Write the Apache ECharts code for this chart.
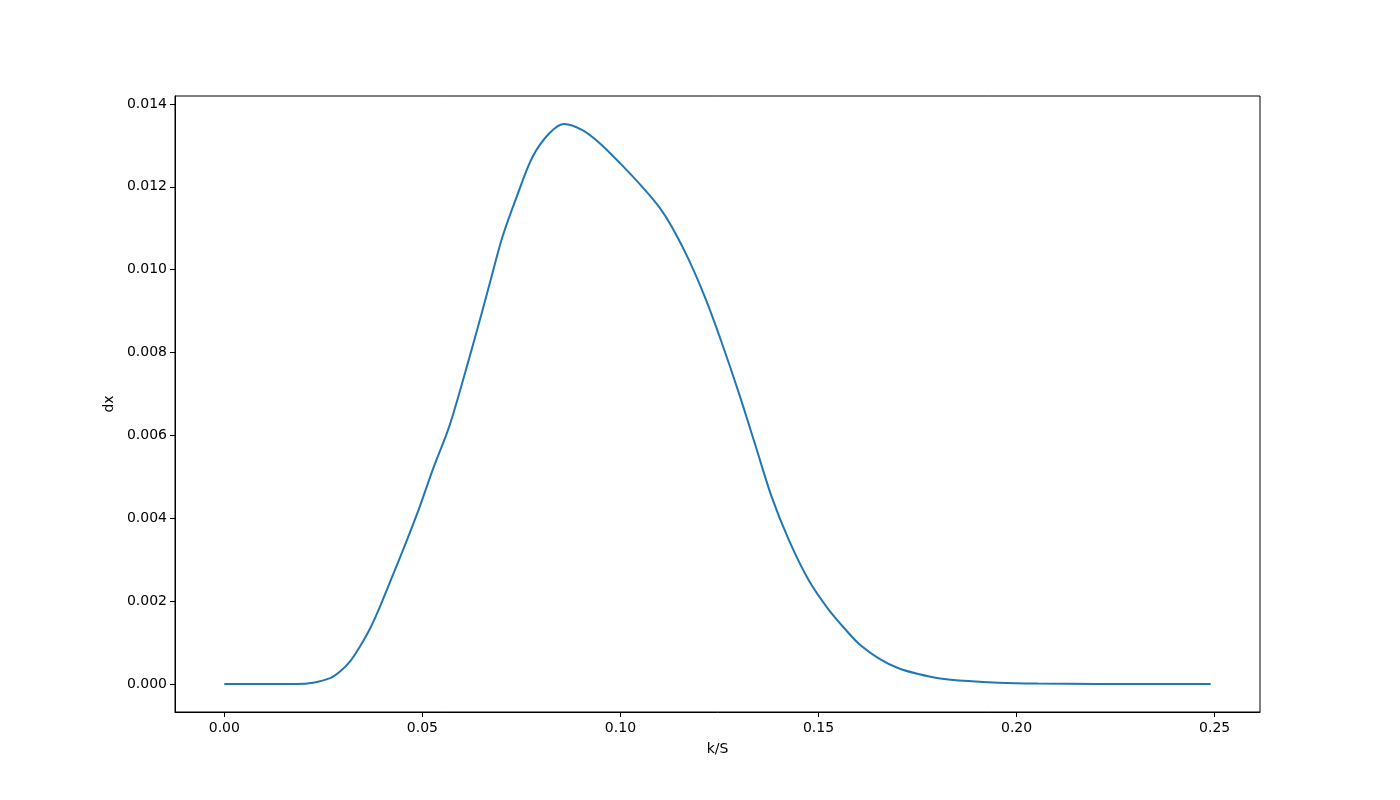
<!DOCTYPE html>
<html>
<head>
<meta charset="utf-8">
<script src="https://cdn.jsdelivr.net/npm/echarts@6/dist/echarts.min.js"></script>
<style>html,body{margin:0;padding:0;background:#fff;}#c{width:1400px;height:800px;}</style>
</head>
<body>
<div id="c"></div>
<script>
const xValues = [0, 0.010, 0.018, 0.0224, 0.0267, 0.0292, 0.0317, 0.0342, 0.0368, 0.0393, 0.0420, 0.0451, 0.0493, 0.0526, 0.0569, 0.0619, 0.0652, 0.0677, 0.0702, 0.0738, 0.0778, 0.0821, 0.0858, 0.0904, 0.0947, 0.1000, 0.1055, 0.1098, 0.1130, 0.1173, 0.1216, 0.1256, 0.1299, 0.1342, 0.1382, 0.1425, 0.1475, 0.1526, 0.1576, 0.1601, 0.1652, 0.1702, 0.1752, 0.1803, 0.1878, 0.1954, 0.2054, 0.2200, 0.2490];
const dxValues = [0, 0, 0, 0.00003, 0.00014, 0.0003, 0.00054, 0.0009, 0.00134, 0.00187, 0.0025, 0.00323, 0.00427, 0.00517, 0.00625, 0.00789, 0.00903, 0.00992, 0.01079, 0.01176, 0.01272, 0.0133, 0.01352, 0.01337, 0.01306, 0.01256, 0.0120, 0.01151, 0.01103, 0.01023, 0.00927, 0.00823, 0.00702, 0.00572, 0.00451, 0.00348, 0.00251, 0.00179, 0.00123, 0.00098, 0.00062, 0.00038, 0.00024, 0.00014, 0.00007, 0.00003, 0.00001, 0, 0];
const xTicks = [0, 0.05, 0.10, 0.15, 0.20, 0.25];
const yTicks = [0, 0.002, 0.004, 0.006, 0.008, 0.010, 0.012, 0.014];

const chart = echarts.init(document.getElementById('c'), null, {renderer: 'canvas'});
const font = 'DejaVu Sans';
chart.setOption({
  animation: false,
  grid: {left: 175, right: 140, top: 96, bottom: 88, show: true, borderColor: '#000', borderWidth: 1, backgroundColor: 'transparent'},
  xAxis: {
    type: 'value', min: -0.01245, max: 0.26145,
    name: 'k/S', nameLocation: 'middle', nameGap: 30,
    nameTextStyle: {fontFamily: font, fontSize: 14, color: '#000'},
    axisLine: {show: true, onZero: false, lineStyle: {color: '#000', width: 1}},
    axisTick: {show: true, length: 5, lineStyle: {color: '#000'}, customValues: xTicks},
    axisLabel: {fontFamily: font, fontSize: 14, color: '#000', margin: 9, customValues: xTicks, formatter: v => v.toFixed(2)},
    splitLine: {show: false}
  },
  yAxis: {
    type: 'value', min: -0.000676, max: 0.014193,
    name: 'dx', nameLocation: 'middle', nameGap: 56,
    nameTextStyle: {fontFamily: font, fontSize: 14, color: '#000'},
    axisLine: {show: true, onZero: false, lineStyle: {color: '#000', width: 1}},
    axisTick: {show: true, length: 5, lineStyle: {color: '#000'}, customValues: yTicks},
    axisLabel: {fontFamily: font, fontSize: 14, color: '#000', margin: 8, customValues: yTicks, formatter: v => v.toFixed(3)},
    splitLine: {show: false}
  },
  series: [{
    type: 'line',
    data: xValues.map((x, i) => [x, dxValues[i]]),
    showSymbol: false,
    smooth: 0.3,
    lineStyle: {color: '#1f77b4', width: 2},
    itemStyle: {color: '#1f77b4'}
  }]
});
</script>
</body>
</html>
